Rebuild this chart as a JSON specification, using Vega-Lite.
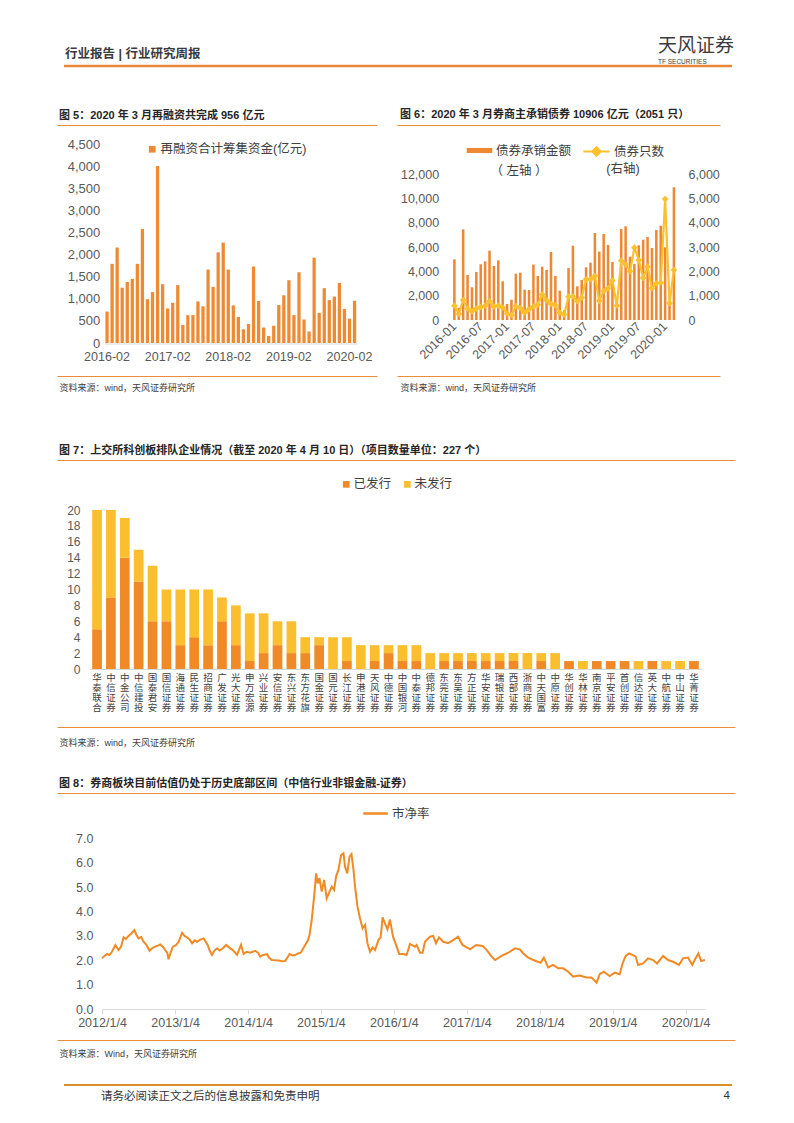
{
"$schema": "https://vega.github.io/schema/vega-lite/v6.json",
"background": "white",
"padding": 0,
"autosize": {"type": "pad"},
"config": {
  "font": "Liberation Sans, Noto Sans CJK SC",
  "view": {"stroke": null},
  "axis": {"grid": false, "domain": false, "ticks": false, "labelColor": "#595959", "labelFontSize": 12.5, "labelFont": "Liberation Sans, Noto Sans CJK SC", "titleFont": "Liberation Sans, Noto Sans CJK SC", "titleFontWeight": "normal", "titleColor": "#404040", "titleFontSize": 9},
  "legend": {"labelColor": "#404040", "labelFontSize": 12.5, "labelFont": "Liberation Sans, Noto Sans CJK SC", "titleFont": "Liberation Sans, Noto Sans CJK SC"},
  "title": {"font": "Liberation Sans, Noto Sans CJK SC", "fontWeight": "bold", "color": "#262626", "fontSize": 11}
},
"spacing": 0,
"bounds": "flush",
"resolve": {"scale": {"color": "independent", "stroke": "independent"}, "legend": {"color": "independent", "stroke": "independent"}},
"vconcat": [
  {
    "width": 790, "height": 30,
    "data": {"values": []}, "mark": "text", "encoding": {},
    "title": {"text": "天风证券", "subtitle": "TF SECURITIES", "orient": "bottom", "anchor": "start", "frame": "group", "dx": 656, "offset": 7, "fontSize": 19, "fontWeight": "normal", "color": "#3C3C3C", "subtitleFontSize": 6.5, "subtitleColor": "#3C3C3C", "subtitlePadding": 3}
  },
  {
    "width": 790, "height": 36,
    "data": {"values": []}, "mark": "text", "encoding": {},
    "view": {"stroke": "#E8893A", "strokeWidth": 2.5, "strokeDash": [0, 886, 668, 98]},
    "title": {"text": "行业报告 | 行业研究周报", "orient": "bottom", "anchor": "start", "frame": "group", "offset": -18, "dx": 63, "fontSize": 12.5, "fontWeight": "bold", "color": "#3A3A3A"}
  },
  {
    "width": 790, "height": 59,
    "data": {"values": []}, "mark": "text", "encoding": {},
    "title": {"text": "图 6：2020 年 3 月券商主承销债券 10906 亿元（2051 只）", "orient": "bottom", "anchor": "start", "frame": "group", "dx": 398, "offset": -16}
  },
  {
    "width": 718, "height": 251,
    "view": {"stroke": "#EB8C3C", "strokeWidth": 1, "strokeDash": [0, 55, 320, 20, 323, 251, 323, 20, 320, 306]},
    "title": {"text": "图 5：2020 年 3 月再融资共完成 956 亿元", "anchor": "start", "frame": "group", "dx": 57, "offset": 4},
    "layer": [
      {
        "data": {"values": [
          {"m": "2016-02", "v": 710}, {"m": "2016-03", "v": 1790}, {"m": "2016-04", "v": 2160}, {"m": "2016-05", "v": 1250},
          {"m": "2016-06", "v": 1380}, {"m": "2016-07", "v": 1450}, {"m": "2016-08", "v": 1790}, {"m": "2016-09", "v": 2580},
          {"m": "2016-10", "v": 990}, {"m": "2016-11", "v": 1150}, {"m": "2016-12", "v": 4000}, {"m": "2017-01", "v": 1330},
          {"m": "2017-02", "v": 780}, {"m": "2017-03", "v": 910}, {"m": "2017-04", "v": 1310}, {"m": "2017-05", "v": 410},
          {"m": "2017-06", "v": 630}, {"m": "2017-07", "v": 630}, {"m": "2017-08", "v": 940}, {"m": "2017-09", "v": 830},
          {"m": "2017-10", "v": 1660}, {"m": "2017-11", "v": 1270}, {"m": "2017-12", "v": 2050}, {"m": "2018-01", "v": 2270},
          {"m": "2018-02", "v": 1660}, {"m": "2018-03", "v": 850}, {"m": "2018-04", "v": 590}, {"m": "2018-05", "v": 310},
          {"m": "2018-06", "v": 430}, {"m": "2018-07", "v": 1730}, {"m": "2018-08", "v": 950}, {"m": "2018-09", "v": 350},
          {"m": "2018-10", "v": 160}, {"m": "2018-11", "v": 390}, {"m": "2018-12", "v": 860}, {"m": "2019-01", "v": 1080},
          {"m": "2019-02", "v": 1420}, {"m": "2019-03", "v": 630}, {"m": "2019-04", "v": 1600}, {"m": "2019-05", "v": 530},
          {"m": "2019-06", "v": 260}, {"m": "2019-07", "v": 1930}, {"m": "2019-08", "v": 680}, {"m": "2019-09", "v": 1240},
          {"m": "2019-10", "v": 970}, {"m": "2019-11", "v": 1050}, {"m": "2019-12", "v": 1360}, {"m": "2020-01", "v": 770},
          {"m": "2020-02", "v": 550}, {"m": "2020-03", "v": 956}
        ]},
        "mark": {"type": "bar"},
        "encoding": {
          "x": {"field": "m", "type": "ordinal", "sort": null,
                "scale": {"range": [102.4, 355.2], "paddingInner": 0.35, "paddingOuter": 0.2},
                "axis": {"orient": "bottom", "offset": -32.5, "values": ["2016-02", "2017-02", "2018-02", "2019-02", "2020-02"], "domain": true, "domainColor": "#D9D9D9", "labelAngle": 0, "labelPadding": 7, "labelFontSize": 12.5,
                         "title": "资料来源：wind，天风证券研究所", "titleX": 57, "titleY": 43.5, "titleAlign": "left", "titleBaseline": "middle"}},
          "y": {"field": "v", "type": "quantitative",
                "scale": {"domain": [0, 4500], "range": [218, 19], "nice": false, "zero": true},
                "axis": {"orient": "left", "offset": -97.7, "labelPadding": 0, "values": [0, 500, 1000, 1500, 2000, 2500, 3000, 3500, 4000, 4500], "format": ",.0f", "labelFontSize": 13, "title": null}},
          "color": {"datum": "再融资合计筹集资金(亿元)", "scale": {"range": ["#EE8A33"]},
                    "legend": {"orient": "none", "legendX": 144, "legendY": 18, "title": null, "symbolType": "square", "symbolSize": 45, "labelOffset": 2}}
        }
      },
      {
        "data": {"values": [
          {"m": "2016-01", "amount": 4990, "count": 590}, {"m": "2016-02", "amount": 1000, "count": 250}, {"m": "2016-03", "amount": 7450, "count": 820},
          {"m": "2016-04", "amount": 3700, "count": 470}, {"m": "2016-05", "amount": 2690, "count": 360}, {"m": "2016-06", "amount": 3950, "count": 470},
          {"m": "2016-07", "amount": 4580, "count": 530}, {"m": "2016-08", "amount": 4820, "count": 590}, {"m": "2016-09", "amount": 5700, "count": 770},
          {"m": "2016-10", "amount": 4440, "count": 550}, {"m": "2016-11", "amount": 4900, "count": 590}, {"m": "2016-12", "amount": 3180, "count": 510},
          {"m": "2017-01", "amount": 1320, "count": 260}, {"m": "2017-02", "amount": 1670, "count": 205}, {"m": "2017-03", "amount": 3810, "count": 560},
          {"m": "2017-04", "amount": 3890, "count": 490}, {"m": "2017-05", "amount": 2490, "count": 300}, {"m": "2017-06", "amount": 2470, "count": 440},
          {"m": "2017-07", "amount": 4550, "count": 550}, {"m": "2017-08", "amount": 3620, "count": 630}, {"m": "2017-09", "amount": 4380, "count": 1050},
          {"m": "2017-10", "amount": 4110, "count": 810}, {"m": "2017-11", "amount": 5590, "count": 660}, {"m": "2017-12", "amount": 3620, "count": 600},
          {"m": "2018-01", "amount": 2410, "count": 300}, {"m": "2018-02", "amount": 800, "count": 230}, {"m": "2018-03", "amount": 4270, "count": 960},
          {"m": "2018-04", "amount": 6110, "count": 970}, {"m": "2018-05", "amount": 2770, "count": 770}, {"m": "2018-06", "amount": 3290, "count": 920},
          {"m": "2018-07", "amount": 4330, "count": 1670}, {"m": "2018-08", "amount": 4710, "count": 1670}, {"m": "2018-09", "amount": 7150, "count": 1810},
          {"m": "2018-10", "amount": 5620, "count": 790}, {"m": "2018-11", "amount": 7070, "count": 1190}, {"m": "2018-12", "amount": 6170, "count": 1300},
          {"m": "2019-01", "amount": 4770, "count": 1620}, {"m": "2019-02", "amount": 1900, "count": 590}, {"m": "2019-03", "amount": 7480, "count": 2440},
          {"m": "2019-04", "amount": 7700, "count": 2290}, {"m": "2019-05", "amount": 5200, "count": 2000}, {"m": "2019-06", "amount": 4600, "count": 2970},
          {"m": "2019-07", "amount": 6140, "count": 2470}, {"m": "2019-08", "amount": 6600, "count": 1730}, {"m": "2019-09", "amount": 6820, "count": 2190},
          {"m": "2019-10", "amount": 5920, "count": 1300}, {"m": "2019-11", "amount": 7400, "count": 1510}, {"m": "2019-12", "amount": 7750, "count": 1530},
          {"m": "2020-01", "amount": 5970, "count": 4970}, {"m": "2020-02", "amount": 1300, "count": 690}, {"m": "2020-03", "amount": 10906, "count": 2051}
        ]},
        "encoding": {
          "x": {"field": "m", "type": "ordinal", "sort": null,
                "scale": {"range": [449.8, 674.5], "paddingInner": 0.42, "paddingOuter": 0.3},
                "axis": {"orient": "bottom", "offset": -56, "values": ["2016-01", "2016-07", "2017-01", "2017-07", "2018-01", "2018-07", "2019-01", "2019-07", "2020-01"],
                         "labelAngle": -45, "labelAlign": "right", "labelBaseline": "middle", "labelPadding": 4, "labelFontSize": 12.5,
                         "title": "资料来源：wind，天风证券研究所", "titleX": 398, "titleY": 67, "titleAlign": "left", "titleBaseline": "middle"}}
        },
        "layer": [
          {
            "mark": {"type": "bar"},
            "encoding": {
              "y": {"field": "amount", "type": "quantitative",
                    "scale": {"domain": [0, 12000], "range": [195, 49], "nice": false},
                    "axis": {"orient": "left", "offset": -436.7, "labelPadding": 0, "values": [0, 2000, 4000, 6000, 8000, 10000, 12000], "format": ",.0f", "title": null}},
              "color": {"datum": "债券承销金额", "scale": {"range": ["#EE8833"]},
                        "legend": {"orient": "none", "legendX": 464, "legendY": 12, "symbolType": "M-1,-0.2H1V0.2H-1Z", "symbolSize": 650, "labelOffset": 3,
                                   "title": "（ 左轴 ）", "titleOrient": "bottom", "titleAnchor": "middle", "titleFontWeight": "normal", "titleFontSize": 12.5, "titleColor": "#404040", "titlePadding": 8}}
            }
          },
          {
            "encoding": {
              "y": {"field": "count", "type": "quantitative",
                    "scale": {"domain": [0, 6000], "range": [195, 49], "nice": false},
                    "axis": {"orient": "right", "offset": -32, "labelPadding": 0, "values": [0, 1000, 2000, 3000, 4000, 5000, 6000], "format": ",.0f", "title": null}}
            },
            "layer": [
              {"mark": {"type": "line", "strokeWidth": 2.2},
               "encoding": {"stroke": {"datum": "债券只数", "scale": {"range": ["#FBC02D"]},
                 "legend": {"orient": "none", "legendX": 580, "legendY": 12, "symbolType": "M-1,0H1M-0.32,0L0,-0.32L0.32,0L0,0.32Z", "symbolSize": 700, "symbolStrokeWidth": 2, "symbolFillColor": "#FBC02D", "labelOffset": 3,
                            "title": "(右轴)", "titleOrient": "bottom", "titleAnchor": "middle", "titleFontWeight": "normal", "titleFontSize": 12.5, "titleColor": "#404040", "titlePadding": 3}}}},
              {"mark": {"type": "point", "shape": "diamond", "filled": true, "size": 45, "color": "#FBC02D", "opacity": 1}}
            ]
          }
        ],
        "resolve": {"scale": {"y": "independent"}}
      }
    ],
    "resolve": {"scale": {"x": "independent", "y": "independent", "color": "independent"}, "axis": {"x": "independent", "y": "independent"}, "legend": {"color": "independent"}}
  },
  {
    "width": 790, "height": 84,
    "data": {"values": []}, "mark": "text", "encoding": {}
  },
  {
    "width": 733, "height": 267,
    "view": {"stroke": "#EB8C3C", "strokeWidth": 1, "strokeDash": [0, 55, 678, 267, 678, 322]},
    "title": {"text": "图 7：上交所科创板排队企业情况（截至 2020 年 4 月 10 日）（项目数量单位：227 个）", "anchor": "start", "frame": "group", "dx": 57, "offset": 4},
    "data": {"values": [
      {"c": "华泰联合", "s": "已发行", "n": 5}, {"c": "华泰联合", "s": "未发行", "n": 15},
      {"c": "中信证券", "s": "已发行", "n": 9}, {"c": "中信证券", "s": "未发行", "n": 11},
      {"c": "中金公司", "s": "已发行", "n": 14}, {"c": "中金公司", "s": "未发行", "n": 5},
      {"c": "中信建投", "s": "已发行", "n": 11}, {"c": "中信建投", "s": "未发行", "n": 4},
      {"c": "国泰君安", "s": "已发行", "n": 6}, {"c": "国泰君安", "s": "未发行", "n": 7},
      {"c": "国信证券", "s": "已发行", "n": 6}, {"c": "国信证券", "s": "未发行", "n": 4},
      {"c": "海通证券", "s": "已发行", "n": 3}, {"c": "海通证券", "s": "未发行", "n": 7},
      {"c": "民生证券", "s": "已发行", "n": 4}, {"c": "民生证券", "s": "未发行", "n": 6},
      {"c": "招商证券", "s": "已发行", "n": 3}, {"c": "招商证券", "s": "未发行", "n": 7},
      {"c": "广发证券", "s": "已发行", "n": 6}, {"c": "广发证券", "s": "未发行", "n": 3},
      {"c": "光大证券", "s": "已发行", "n": 3}, {"c": "光大证券", "s": "未发行", "n": 5},
      {"c": "申万宏源", "s": "已发行", "n": 1}, {"c": "申万宏源", "s": "未发行", "n": 6},
      {"c": "兴业证券", "s": "已发行", "n": 2}, {"c": "兴业证券", "s": "未发行", "n": 5},
      {"c": "安信证券", "s": "已发行", "n": 3}, {"c": "安信证券", "s": "未发行", "n": 3},
      {"c": "东兴证券", "s": "已发行", "n": 2}, {"c": "东兴证券", "s": "未发行", "n": 4},
      {"c": "东方花旗", "s": "已发行", "n": 2}, {"c": "东方花旗", "s": "未发行", "n": 2},
      {"c": "国金证券", "s": "已发行", "n": 3}, {"c": "国金证券", "s": "未发行", "n": 1},
      {"c": "国元证券", "s": "已发行", "n": 0}, {"c": "国元证券", "s": "未发行", "n": 4},
      {"c": "长江证券", "s": "已发行", "n": 1}, {"c": "长江证券", "s": "未发行", "n": 3},
      {"c": "申港证券", "s": "已发行", "n": 0}, {"c": "申港证券", "s": "未发行", "n": 3},
      {"c": "天风证券", "s": "已发行", "n": 1}, {"c": "天风证券", "s": "未发行", "n": 2},
      {"c": "中德证券", "s": "已发行", "n": 2}, {"c": "中德证券", "s": "未发行", "n": 1},
      {"c": "中国银河", "s": "已发行", "n": 1}, {"c": "中国银河", "s": "未发行", "n": 2},
      {"c": "中泰证券", "s": "已发行", "n": 1}, {"c": "中泰证券", "s": "未发行", "n": 2},
      {"c": "德邦证券", "s": "已发行", "n": 0}, {"c": "德邦证券", "s": "未发行", "n": 2},
      {"c": "东莞证券", "s": "已发行", "n": 1}, {"c": "东莞证券", "s": "未发行", "n": 1},
      {"c": "东吴证券", "s": "已发行", "n": 1}, {"c": "东吴证券", "s": "未发行", "n": 1},
      {"c": "方正证券", "s": "已发行", "n": 1}, {"c": "方正证券", "s": "未发行", "n": 1},
      {"c": "华安证券", "s": "已发行", "n": 1}, {"c": "华安证券", "s": "未发行", "n": 1},
      {"c": "瑞银证券", "s": "已发行", "n": 1}, {"c": "瑞银证券", "s": "未发行", "n": 1},
      {"c": "西部证券", "s": "已发行", "n": 1}, {"c": "西部证券", "s": "未发行", "n": 1},
      {"c": "浙商证券", "s": "已发行", "n": 0}, {"c": "浙商证券", "s": "未发行", "n": 2},
      {"c": "中天国富", "s": "已发行", "n": 1}, {"c": "中天国富", "s": "未发行", "n": 1},
      {"c": "中原证券", "s": "已发行", "n": 0}, {"c": "中原证券", "s": "未发行", "n": 2},
      {"c": "华创证券", "s": "已发行", "n": 1}, {"c": "华创证券", "s": "未发行", "n": 0},
      {"c": "华林证券", "s": "已发行", "n": 0}, {"c": "华林证券", "s": "未发行", "n": 1},
      {"c": "南京证券", "s": "已发行", "n": 1}, {"c": "南京证券", "s": "未发行", "n": 0},
      {"c": "平安证券", "s": "已发行", "n": 1}, {"c": "平安证券", "s": "未发行", "n": 0},
      {"c": "首创证券", "s": "已发行", "n": 1}, {"c": "首创证券", "s": "未发行", "n": 0},
      {"c": "信达证券", "s": "已发行", "n": 0}, {"c": "信达证券", "s": "未发行", "n": 1},
      {"c": "英大证券", "s": "已发行", "n": 1}, {"c": "英大证券", "s": "未发行", "n": 0},
      {"c": "中航证券", "s": "已发行", "n": 0}, {"c": "中航证券", "s": "未发行", "n": 1},
      {"c": "中山证券", "s": "已发行", "n": 0}, {"c": "中山证券", "s": "未发行", "n": 1},
      {"c": "华菁证券", "s": "已发行", "n": 1}, {"c": "华菁证券", "s": "未发行", "n": 0}
    ]},
    "mark": {"type": "bar"},
    "encoding": {
      "x": {"field": "c", "type": "nominal", "sort": null,
            "scale": {"range": [87.4, 699.6], "paddingInner": 0.3, "paddingOuter": 0.2},
            "axis": {"orient": "bottom", "offset": -58, "labelAngle": 0, "labelExpr": "split(datum.label, '')", "labelLineHeight": 10, "labelFontSize": 9.5,
                     "labelBaseline": "top", "labelAlign": "center", "labelPadding": 3, "labelOverlap": false, "labelColor": "#404040", "domain": true, "domainColor": "#D9D9D9",
                     "title": "资料来源：wind，天风证券研究所", "titleX": 57, "titleY": 73, "titleAlign": "left", "titleBaseline": "middle"}},
      "y": {"field": "n", "type": "quantitative", "stack": "zero",
            "scale": {"domain": [0, 20], "range": [209, 50], "nice": false},
            "axis": {"orient": "left", "offset": -78, "labelPadding": 0, "values": [0, 2, 4, 6, 8, 10, 12, 14, 16, 18, 20], "labelFontSize": 12, "title": null}},
      "color": {"field": "s", "type": "nominal", "scale": {"domain": ["已发行", "未发行"], "range": ["#F08A26", "#FBBE2F"]},
                "legend": {"orient": "none", "direction": "horizontal", "legendX": 338, "legendY": 18, "title": null, "symbolType": "square", "symbolSize": 45, "labelOffset": 1, "columnPadding": 9}},
      "order": {"field": "s", "sort": "ascending"}
    }
  },
  {
    "width": 790, "height": 66,
    "data": {"values": []}, "mark": "text", "encoding": {}
  },
  {
    "width": 733, "height": 247,
    "view": {"stroke": "#EB8C3C", "strokeWidth": 1, "strokeDash": [0, 55, 678, 247, 678, 302]},
    "title": {"text": "图 8：券商板块目前估值仍处于历史底部区间（中信行业非银金融-证券）", "anchor": "start", "frame": "group", "dx": 57, "offset": 4},
    "data": {"values": [
      {"d": "2012-01-04", "v": 2.08}, {"d": "2012-01-16", "v": 2.18}, {"d": "2012-01-29", "v": 2.26}, {"d": "2012-02-10", "v": 2.22},
      {"d": "2012-02-23", "v": 2.35}, {"d": "2012-03-11", "v": 2.63}, {"d": "2012-03-27", "v": 2.42}, {"d": "2012-04-08", "v": 2.55},
      {"d": "2012-04-21", "v": 2.94}, {"d": "2012-05-03", "v": 2.88}, {"d": "2012-05-16", "v": 3.0}, {"d": "2012-05-30", "v": 3.1},
      {"d": "2012-06-14", "v": 3.24}, {"d": "2012-06-24", "v": 3.05}, {"d": "2012-07-05", "v": 2.9}, {"d": "2012-07-18", "v": 2.95},
      {"d": "2012-07-30", "v": 2.76}, {"d": "2012-08-14", "v": 2.62}, {"d": "2012-08-29", "v": 2.39}, {"d": "2012-09-12", "v": 2.5},
      {"d": "2012-09-26", "v": 2.56}, {"d": "2012-10-09", "v": 2.6}, {"d": "2012-10-22", "v": 2.65}, {"d": "2012-11-05", "v": 2.55},
      {"d": "2012-11-15", "v": 2.42}, {"d": "2012-11-26", "v": 2.3}, {"d": "2012-12-02", "v": 2.04}, {"d": "2012-12-12", "v": 2.3},
      {"d": "2012-12-24", "v": 2.56}, {"d": "2013-01-08", "v": 2.62}, {"d": "2013-01-22", "v": 2.76}, {"d": "2013-02-08", "v": 3.13},
      {"d": "2013-02-20", "v": 3.0}, {"d": "2013-03-05", "v": 2.94}, {"d": "2013-03-18", "v": 2.85}, {"d": "2013-03-30", "v": 2.7},
      {"d": "2013-04-12", "v": 2.82}, {"d": "2013-04-24", "v": 2.76}, {"d": "2013-05-10", "v": 2.85}, {"d": "2013-05-27", "v": 2.9},
      {"d": "2013-06-16", "v": 2.63}, {"d": "2013-06-26", "v": 2.4}, {"d": "2013-07-08", "v": 2.22}, {"d": "2013-07-20", "v": 2.4},
      {"d": "2013-08-02", "v": 2.49}, {"d": "2013-08-15", "v": 2.4}, {"d": "2013-08-27", "v": 2.46}, {"d": "2013-09-17", "v": 2.63},
      {"d": "2013-10-07", "v": 2.49}, {"d": "2013-10-22", "v": 2.4}, {"d": "2013-11-10", "v": 2.22}, {"d": "2013-11-30", "v": 2.63},
      {"d": "2013-12-13", "v": 2.26}, {"d": "2013-12-28", "v": 2.35}, {"d": "2014-01-15", "v": 2.31}, {"d": "2014-02-09", "v": 2.39},
      {"d": "2014-02-24", "v": 2.3}, {"d": "2014-03-06", "v": 2.15}, {"d": "2014-03-20", "v": 2.22}, {"d": "2014-04-09", "v": 2.25},
      {"d": "2014-04-20", "v": 2.1}, {"d": "2014-05-03", "v": 2.01}, {"d": "2014-05-20", "v": 2.0}, {"d": "2014-06-06", "v": 1.99},
      {"d": "2014-06-22", "v": 1.96}, {"d": "2014-07-09", "v": 1.97}, {"d": "2014-07-31", "v": 2.26}, {"d": "2014-08-15", "v": 2.2},
      {"d": "2014-08-28", "v": 2.22}, {"d": "2014-09-12", "v": 2.28}, {"d": "2014-09-25", "v": 2.31}, {"d": "2014-10-17", "v": 2.63},
      {"d": "2014-10-30", "v": 2.8}, {"d": "2014-11-08", "v": 3.04}, {"d": "2014-11-19", "v": 3.66}, {"d": "2014-12-01", "v": 4.61},
      {"d": "2014-12-11", "v": 5.57}, {"d": "2014-12-19", "v": 5.16}, {"d": "2014-12-28", "v": 5.37}, {"d": "2015-01-08", "v": 4.82},
      {"d": "2015-01-20", "v": 5.3}, {"d": "2015-02-02", "v": 4.54}, {"d": "2015-02-16", "v": 4.82}, {"d": "2015-02-27", "v": 5.02},
      {"d": "2015-03-11", "v": 4.89}, {"d": "2015-03-21", "v": 5.44}, {"d": "2015-04-02", "v": 5.72}, {"d": "2015-04-15", "v": 6.32},
      {"d": "2015-04-27", "v": 6.39}, {"d": "2015-05-05", "v": 5.84}, {"d": "2015-05-16", "v": 5.57}, {"d": "2015-05-27", "v": 6.25},
      {"d": "2015-06-06", "v": 6.36}, {"d": "2015-06-16", "v": 5.72}, {"d": "2015-06-24", "v": 5.02}, {"d": "2015-07-06", "v": 4.2},
      {"d": "2015-07-19", "v": 3.72}, {"d": "2015-08-01", "v": 3.31}, {"d": "2015-08-13", "v": 3.45}, {"d": "2015-08-25", "v": 2.7},
      {"d": "2015-09-07", "v": 2.35}, {"d": "2015-09-20", "v": 2.53}, {"d": "2015-10-02", "v": 2.42}, {"d": "2015-10-19", "v": 2.83},
      {"d": "2015-10-30", "v": 2.94}, {"d": "2015-11-09", "v": 3.76}, {"d": "2015-11-21", "v": 3.51}, {"d": "2015-12-03", "v": 3.27},
      {"d": "2015-12-16", "v": 3.67}, {"d": "2015-12-31", "v": 2.97}, {"d": "2016-01-15", "v": 2.63}, {"d": "2016-01-31", "v": 2.26},
      {"d": "2016-02-20", "v": 2.26}, {"d": "2016-03-08", "v": 2.22}, {"d": "2016-03-25", "v": 2.67}, {"d": "2016-04-19", "v": 2.56},
      {"d": "2016-04-27", "v": 2.63}, {"d": "2016-05-14", "v": 2.31}, {"d": "2016-05-27", "v": 2.31}, {"d": "2016-06-08", "v": 2.76},
      {"d": "2016-07-03", "v": 2.97}, {"d": "2016-07-19", "v": 3.0}, {"d": "2016-08-02", "v": 2.7}, {"d": "2016-08-17", "v": 2.94},
      {"d": "2016-09-07", "v": 2.76}, {"d": "2016-10-02", "v": 2.7}, {"d": "2016-10-27", "v": 2.83}, {"d": "2016-11-21", "v": 2.97},
      {"d": "2016-12-13", "v": 2.63}, {"d": "2017-01-20", "v": 2.45}, {"d": "2017-02-19", "v": 2.63}, {"d": "2017-03-24", "v": 2.59},
      {"d": "2017-04-13", "v": 2.42}, {"d": "2017-05-08", "v": 2.15}, {"d": "2017-05-25", "v": 2.01}, {"d": "2017-06-27", "v": 2.18},
      {"d": "2017-07-30", "v": 2.31}, {"d": "2017-09-02", "v": 2.49}, {"d": "2017-09-26", "v": 2.45}, {"d": "2017-10-13", "v": 2.28},
      {"d": "2017-11-07", "v": 2.11}, {"d": "2017-12-11", "v": 1.98}, {"d": "2018-01-08", "v": 1.9}, {"d": "2018-01-24", "v": 2.11},
      {"d": "2018-02-15", "v": 1.71}, {"d": "2018-03-12", "v": 1.81}, {"d": "2018-04-06", "v": 1.67}, {"d": "2018-05-01", "v": 1.67},
      {"d": "2018-05-26", "v": 1.53}, {"d": "2018-06-20", "v": 1.33}, {"d": "2018-07-23", "v": 1.37}, {"d": "2018-08-26", "v": 1.29},
      {"d": "2018-09-20", "v": 1.29}, {"d": "2018-10-15", "v": 1.08}, {"d": "2018-10-31", "v": 1.43}, {"d": "2018-11-20", "v": 1.53},
      {"d": "2018-12-20", "v": 1.35}, {"d": "2019-01-14", "v": 1.49}, {"d": "2019-02-08", "v": 1.43}, {"d": "2019-02-22", "v": 1.87},
      {"d": "2019-03-10", "v": 2.18}, {"d": "2019-03-27", "v": 2.28}, {"d": "2019-04-13", "v": 2.22}, {"d": "2019-04-29", "v": 2.15},
      {"d": "2019-05-11", "v": 1.81}, {"d": "2019-06-05", "v": 1.87}, {"d": "2019-06-30", "v": 2.08}, {"d": "2019-07-25", "v": 2.01},
      {"d": "2019-08-14", "v": 1.87}, {"d": "2019-09-13", "v": 2.18}, {"d": "2019-10-08", "v": 2.01}, {"d": "2019-11-02", "v": 1.94},
      {"d": "2019-12-02", "v": 1.81}, {"d": "2019-12-22", "v": 2.08}, {"d": "2020-01-16", "v": 2.11}, {"d": "2020-02-06", "v": 1.81},
      {"d": "2020-02-23", "v": 2.08}, {"d": "2020-03-08", "v": 2.28}, {"d": "2020-03-22", "v": 1.97}, {"d": "2020-04-10", "v": 2.01}
    ]},
    "mark": {"type": "line", "strokeWidth": 2},
    "encoding": {
      "x": {"field": "d", "type": "temporal",
            "scale": {"type": "utc", "domain": [{"year": 2012, "month": 1, "date": 4, "utc": true}, {"year": 2020, "month": 4, "date": 10, "utc": true}], "range": [100, 703]},
            "axis": {"orient": "bottom", "offset": -31,
                     "values": [{"year": 2012, "month": 1, "date": 4, "utc": true}, {"year": 2013, "month": 1, "date": 4, "utc": true}, {"year": 2014, "month": 1, "date": 4, "utc": true},
                                {"year": 2015, "month": 1, "date": 4, "utc": true}, {"year": 2016, "month": 1, "date": 4, "utc": true}, {"year": 2017, "month": 1, "date": 4, "utc": true},
                                {"year": 2018, "month": 1, "date": 4, "utc": true}, {"year": 2019, "month": 1, "date": 4, "utc": true}, {"year": 2020, "month": 1, "date": 4, "utc": true}],
                     "format": "%Y/%-m/%-d", "domain": true, "domainColor": "#D9D9D9", "ticks": true, "tickColor": "#D9D9D9", "tickSize": 5,
                     "labelPadding": 2, "labelAngle": 0, "labelFlush": false, "labelOverlap": false, "labelFontSize": 12.5,
                     "title": "资料来源：Wind，天风证券研究所", "titleX": 57, "titleY": 44, "titleAlign": "left", "titleBaseline": "middle"}},
      "y": {"field": "v", "type": "quantitative",
            "scale": {"domain": [0, 7], "range": [216, 45.5], "nice": false},
            "axis": {"orient": "left", "offset": -91, "labelPadding": 0, "values": [0, 1, 2, 3, 4, 5, 6, 7], "format": ".1f", "labelFontSize": 12.5, "title": null}},
      "stroke": {"datum": "市净率", "scale": {"range": ["#F08A24"]},
                 "legend": {"orient": "none", "legendX": 360, "legendY": 7, "title": null, "symbolType": "stroke", "symbolSize": 600, "symbolStrokeWidth": 2.5, "labelOffset": 3}}
    }
  },
  {
    "width": 790, "height": 45,
    "data": {"values": []}, "mark": "text", "encoding": {},
    "title": {"text": "4", "orient": "bottom", "anchor": "end", "frame": "group", "dx": -62, "offset": 5, "fontSize": 11.5, "fontWeight": "normal", "color": "#333333"}
  },
  {
    "width": 790, "height": 38,
    "data": {"values": []}, "mark": "text", "encoding": {},
    "view": {"stroke": "#DB8E26", "strokeWidth": 2, "strokeDash": [0, 62, 668, 926]},
    "title": {"text": "请务必阅读正文之后的信息披露和免责申明", "orient": "top", "anchor": "start", "frame": "group", "dx": 99, "offset": -17, "fontSize": 11.5, "fontWeight": "normal", "color": "#333333"}
  }
]
}
